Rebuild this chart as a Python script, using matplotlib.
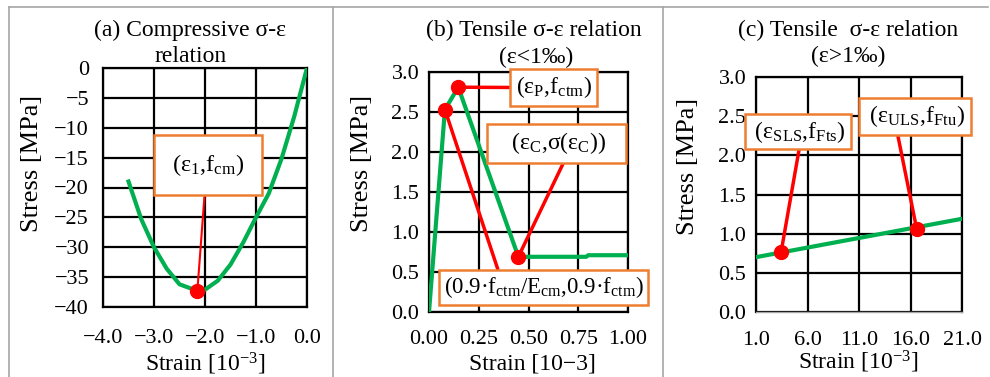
import matplotlib
matplotlib.use("Agg")
import matplotlib.pyplot as plt
from matplotlib.lines import Line2D

plt.rcParams["font.family"] = ["Liberation Serif", "DejaVu Serif"]
plt.rcParams["mathtext.fontset"] = "custom"
plt.rcParams["mathtext.rm"] = "Liberation Serif"
plt.rcParams["mathtext.it"] = "Liberation Serif:italic"
plt.rcParams["axes.unicode_minus"] = True

# (a) 圧縮側の応力-ひずみ
comp_strain = [-3.5, -3.25, -3.0, -2.75, -2.5, -2.15, -2.0, -1.75, -1.5, -1.25, -1.0, -0.75, -0.5, -0.25, 0.0]
comp_stress = [-19.0, -25.3, -30.0, -33.6, -36.2, -37.3, -37.1, -35.6, -32.9, -29.2, -25.0, -21.0, -15.2, -8.1, 0.0]
comp_peak = (-2.15, -37.3)

# (b) 引張側 (ε<1‰)
ten1_strain = [0.0, 0.08, 0.147, 0.449, 0.79, 0.80, 1.0]
ten1_stress = [0.0, 2.53, 2.81, 0.69, 0.69, 0.71, 0.71]
ten1_pts = {"elastic": (0.08, 2.53), "peak": (0.147, 2.81), "crack": (0.449, 0.69)}

# (c) 引張側 (ε>1‰)
ten2_strain = [1.0, 21.0]
ten2_stress = [0.70, 1.19]
ten2_pts = {"sls": (3.43, 0.76), "uls": (16.6, 1.06)}

GREEN = "#00B050"
RED = "#FF0000"
ORANGE = "#ED7D31"
W, H = 990, 377
TICK_FS = 16
BOX_FS = 17

fig = plt.figure(figsize=(W / 100, H / 100), dpi=100)


def px_axes(x0, y0, x1, y1):
    # 画像ピクセル座標 (左上原点) から axes を作る
    return fig.add_axes([x0 / W, 1 - y1 / H, (x1 - x0) / W, (y1 - y0) / H])


def style(ax, xt, yt, xlab, ylab, xpad, ypad):
    ax.set_xticks(xt)
    ax.set_yticks(yt)
    ax.set_xticklabels(xlab)
    ax.set_yticklabels(ylab)
    ax.grid(True, color="black", lw=1.6)
    ax.set_axisbelow(True)
    for s in ax.spines.values():
        s.set_linewidth(1.6)
    ax.tick_params(length=0, labelsize=TICK_FS, colors="black")
    ax.tick_params(axis="x", pad=xpad)
    ax.tick_params(axis="y", pad=ypad)


def box_note(ax, text, xy, center_px, relpos, pad, lw=2.5, fs=BOX_FS):
    ax.annotate(text, xy=xy, xycoords="data",
                xytext=(center_px[0], H - center_px[1]), textcoords="figure pixels",
                ha="center", va="center", fontsize=fs,
                bbox=dict(boxstyle="square,pad=%s" % pad, fc="white", ec=ORANGE, lw=1.8),
                arrowprops=dict(arrowstyle="-", color=RED, lw=lw, shrinkA=0, shrinkB=0, relpos=relpos),
                annotation_clip=False, zorder=6)


# ---- (a) ----
ax1 = px_axes(103, 68, 307, 307)
ax1.plot(comp_strain, comp_stress, color=GREEN, lw=3, zorder=3)
ax1.set_xlim(-4, 0)
ax1.set_ylim(-40, 0)
style(ax1, [-4, -3, -2, -1, 0], list(range(-40, 1, 5)),
      ["\u22124.0", "\u22123.0", "\u22122.0", "\u22121.0", "0.0"],
      ["\u2212%d" % abs(v) if v else "0" for v in range(-40, 1, 5)], 16, 10)
ax1.plot(*comp_peak, "o", color=RED, ms=10, zorder=5, clip_on=False)
box_note(ax1, "(ε$_1$,f$_{\\rm cm}$)", comp_peak, (208, 165), (0.47, 0), 0.72, lw=1.5, fs=17.5)

# ---- (b) ----
ax2 = px_axes(429, 72, 628, 312)
ax2.plot(ten1_strain, ten1_stress, color=GREEN, lw=3, zorder=3)
ax2.set_xlim(0, 1)
ax2.set_ylim(0, 3)
style(ax2, [0, 0.25, 0.5, 0.75, 1.0], [0, 0.5, 1.0, 1.5, 2.0, 2.5, 3.0],
      ["0.00", "0.25", "0.50", "0.75", "1.00"],
      ["0.0", "0.5", "1.0", "1.5", "2.0", "2.5", "3.0"], 13, 7)
for p in ten1_pts.values():
    ax2.plot(*p, "o", color=RED, ms=10, zorder=5, clip_on=False)
box_note(ax2, "(ε$_{\\rm P}$,f$_{\\rm ctm}$)", ten1_pts["peak"], (553.5, 87.5), (0, 0.5), 0.22)
box_note(ax2, "   (ε$_{\\rm C}$,σ(ε$_{\\rm C}$))   ", ten1_pts["crack"], (556.5, 143.5), (0.58, 0), 0.28)
box_note(ax2, "(0.9·f$_{\\rm ctm}$/E$_{\\rm cm}$,0.9·f$_{\\rm ctm}$)", ten1_pts["elastic"], (543.5, 287.5), (0.28, 1), 0.2, fs=16.5)

# ---- (c) ----
ax3 = px_axes(756, 77, 962, 312)
ax3.plot(ten2_strain, ten2_stress, color=GREEN, lw=3, zorder=3)
ax3.set_xlim(1, 21)
ax3.set_ylim(0, 3)
style(ax3, [1, 6, 11, 16, 21], [0, 0.5, 1.0, 1.5, 2.0, 2.5, 3.0],
      ["1.0", "6.0", "11.0", "16.0", "21.0"],
      ["0.0", "0.5", "1.0", "1.5", "2.0", "2.5", "3.0"], 14, 7)
ax3.spines["bottom"].set_color("#a6a6a6")
ax3.spines["bottom"].set_linewidth(1)
for p in ten2_pts.values():
    ax3.plot(*p, "o", color=RED, ms=10, zorder=5, clip_on=False)
box_note(ax3, " (ε$_{\\rm SLS}$,f$_{\\rm Fts}$) ", ten2_pts["sls"], (798, 131.7), (0.52, 0), 0.18)
box_note(ax3, " (ε$_{\\rm ULS}$,f$_{\\rm Ftu}$) ", ten2_pts["uls"], (915, 116.5), (0.32, 0), 0.22)


# タイトル・軸ラベル
def ftext(x, y, s, **kw):
    fig.text(x / W, 1 - y / H, s, ha="center", va="center", **kw)


ftext(190, 30, "(a) Compressive σ-ε", fontsize=17)
ftext(191, 56, "relation", fontsize=17)
ftext(534, 30, "(b) Tensile σ-ε relation", fontsize=17)
ftext(536, 57, "(ε<1‰)", fontsize=17)
ftext(848, 30, "(c) Tensile  σ-ε relation", fontsize=17)
ftext(848, 56, "(ε>1‰)", fontsize=17)

ftext(32, 163, "Stress [MPa]", fontsize=19, rotation=90)
ftext(362, 163, "Stress [MPa]", fontsize=19, rotation=90)
ftext(688, 166, "Stress [MPa]", fontsize=19, rotation=90)
ftext(205, 364, "Strain [10$^{\u22123}$]", fontsize=17)
ftext(532, 364, "Strain [10\u22123]", fontsize=17)
ftext(858, 362, "Strain [10$^{\u22123}$]", fontsize=17)

# 枠線
frame = dict(color="#a6a6a6", lw=1.2)
for xs, ys in [([9, 988], [7, 7]), ([9, 9], [7, 377]), ([333, 333], [7, 377]), ([663, 663], [7, 377])]:
    fig.add_artist(Line2D([x / W for x in xs], [1 - y / H for y in ys], **frame))

fig.savefig("out.png", dpi=100)
